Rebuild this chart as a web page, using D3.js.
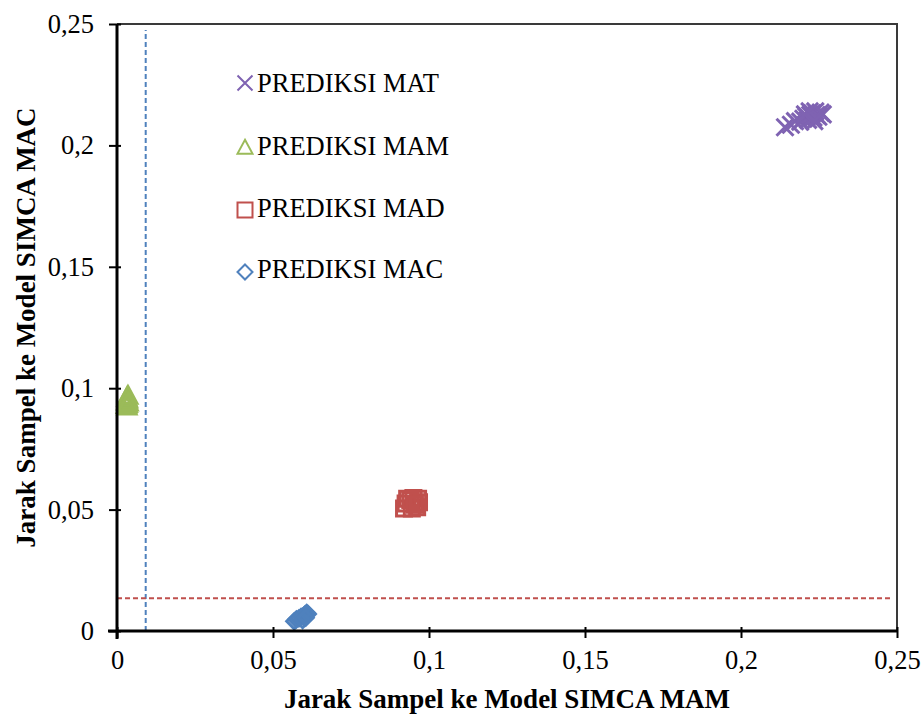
<!DOCTYPE html>
<html>
<head>
<meta charset="utf-8">
<script src="https://cdn.jsdelivr.net/npm/d3@7"></script>
<style>
  body { margin: 0; background: #fff; }
  svg { display: block; font-family: "Liberation Serif", "Times New Roman", serif; }
</style>
</head>
<body>
<svg id="chart" width="922" height="715"></svg>
<script>
// Distances of each predicted sample to the SIMCA class models [MAM distance, MAC distance]
const predMAT = [
  [0.2141, 0.2075], [0.2160, 0.2085], [0.2173, 0.2100], [0.2190, 0.2098],
  [0.2200, 0.2110], [0.2210, 0.2118], [0.2215, 0.2105], [0.2222, 0.2125],
  [0.2228, 0.2132], [0.2232, 0.2115], [0.2238, 0.2140], [0.2242, 0.2125],
  [0.2248, 0.2118], [0.2255, 0.2135], [0.2262, 0.2128], [0.2220, 0.2140],
  [0.2205, 0.2128], [0.2235, 0.2100]
];
const predMAM = [
  [0.0032, 0.0922], [0.0033, 0.0932], [0.0031, 0.0942], [0.0034, 0.0950],
  [0.0032, 0.0958], [0.0035, 0.0966], [0.0030, 0.0928], [0.0036, 0.0938]
];
const predMAD = [
  [0.0920, 0.0505], [0.0925, 0.0525], [0.0930, 0.0545], [0.0945, 0.0505],
  [0.0950, 0.0548], [0.0962, 0.0510], [0.0968, 0.0530], [0.0965, 0.0545],
  [0.0940, 0.0540], [0.0955, 0.0520]
];
const predMAC = [
  [0.0568, 0.0040], [0.0575, 0.0048], [0.0583, 0.0052], [0.0590, 0.0058],
  [0.0598, 0.0062], [0.0603, 0.0068], [0.0608, 0.0075], [0.0612, 0.0070],
  [0.0595, 0.0045], [0.0605, 0.0055]
];
// Critical distance limits of the two models
const limitMAM = 0.0092;
const limitMAC = 0.0135;

const xTicks = [0, 0.05, 0.1, 0.15, 0.2, 0.25];
const yTicks = [0, 0.05, 0.1, 0.15, 0.2, 0.25];
const minorTicks = d3.range(1, 25).map(i => i / 100);

const seriesNames = ["PREDIKSI MAT", "PREDIKSI MAM", "PREDIKSI MAD", "PREDIKSI MAC"];
const seriesData = [predMAT, predMAM, predMAD, predMAC];
const seriesColors = ["#7F63B2", "#9BBB59", "#C0504D", "#4F81BD"];
const seriesShapes = ["cross", "triangle", "square", "diamond"];

const svg = d3.select("#chart");
const m = { left: 117, right: 25, top: 24, bottom: 84 };
const W = 922, H = 715;
const x = d3.scaleLinear().domain([0, 0.25]).range([m.left, W - m.right]);
const y = d3.scaleLinear().domain([0, 0.25]).range([H - m.bottom, m.top]);

const fmt = d => d === 0 ? "0" : String(+d.toFixed(2)).replace(".", ",");
const fontSize = 26.5;
const titleSize = 27;

// plot frame (top and right edges)
svg.append("path")
  .attr("d", `M${x(0)},${y(0.25)}H${x(0.25)}V${y(0)}`)
  .attr("fill", "none").attr("stroke", "#3a3a3a").attr("stroke-width", 2);

// marker shape paths
function shapePath(shape, s) {
  if (shape === "cross") return `M${-s},${-s}L${s},${s}M${-s},${s}L${s},${-s}`;
  if (shape === "triangle") return `M0,${-s * 1.1}L${s},${s * 0.75}L${-s},${s * 0.75}Z`;
  if (shape === "square") return `M${-s},${-s}H${s}V${s}H${-s}Z`;
  return `M0,${-s}L${s},0L0,${s}L${-s},0Z`;
}

// reference limits
svg.append("line")
  .attr("x1", x(limitMAM)).attr("x2", x(limitMAM))
  .attr("y1", y(0)).attr("y2", y(0.2475))
  .attr("stroke", "#4F81BD").attr("stroke-width", 2).attr("stroke-dasharray", "5,3");
svg.append("line")
  .attr("x1", x(0)).attr("x2", x(0.248))
  .attr("y1", y(limitMAC)).attr("y2", y(limitMAC))
  .attr("stroke", "#C0504D").attr("stroke-width", 2).attr("stroke-dasharray", "5,3");

// data points
seriesData.forEach((data, i) => {
  const size = seriesShapes[i] === "cross" ? 8.5 : (seriesShapes[i] === "triangle" ? 9 : 7.5);
  svg.append("g").selectAll("path").data(data).join("path")
    .attr("transform", d => `translate(${x(d[0])},${y(d[1])})`)
    .attr("d", shapePath(seriesShapes[i], size))
    .attr("fill", "none")
    .attr("stroke", seriesColors[i])
    .attr("stroke-width", 3);
});

// axes with minor ticks inside
const xAxis = svg.append("g").attr("transform", `translate(0,${y(0)})`);
xAxis.call(d3.axisBottom(x).tickValues(minorTicks).tickSize(-5).tickFormat(""));
xAxis.call(d3.axisBottom(x).tickValues(xTicks).tickSize(7).tickFormat(fmt).tickPadding(12));
xAxis.selectAll(".domain").remove();
const yAxis = svg.append("g").attr("transform", `translate(${x(0)},0)`);
yAxis.call(d3.axisLeft(y).tickValues(minorTicks).tickSize(-5).tickFormat(""));
yAxis.call(d3.axisLeft(y).tickValues(yTicks).tickSize(8).tickFormat(fmt).tickPadding(15));
yAxis.selectAll(".domain").remove();

// major ticks cross the axis line
xAxis.selectAll(".tick line").filter(function () { return +d3.select(this).attr("y2") > 0; })
  .attr("y1", -4);
yAxis.selectAll(".tick line").filter(function () { return +d3.select(this).attr("x2") < 0; })
  .attr("x1", 4);

svg.selectAll(".tick line").attr("stroke", "#000").attr("stroke-width", 2);
svg.selectAll(".tick text").attr("font-size", fontSize).attr("font-family", "Liberation Serif").attr("fill", "#000");

svg.append("line").attr("x1", x(0) - 9).attr("x2", x(0.25)).attr("y1", y(0)).attr("y2", y(0))
  .attr("stroke", "#000").attr("stroke-width", 3);
svg.append("line").attr("x1", x(0)).attr("x2", x(0)).attr("y1", y(0.25)).attr("y2", y(0) + 8)
  .attr("stroke", "#000").attr("stroke-width", 3);

// axis titles
svg.append("text")
  .attr("x", 507).attr("y", 708)
  .attr("text-anchor", "middle").attr("font-weight", "bold").attr("font-size", titleSize)
  .text("Jarak Sampel ke Model SIMCA MAM");
svg.append("text")
  .attr("transform", `translate(35,${(y(0) + y(0.25)) / 2}) rotate(-90)`)
  .attr("text-anchor", "middle").attr("font-weight", "bold").attr("font-size", titleSize)
  .text("Jarak Sampel ke Model SIMCA MAC");

// legend
const legend = svg.append("g").attr("transform", "translate(245,0)");
const legendRows = [83, 148, 210, 272];
seriesNames.forEach((name, i) => {
  const g = legend.append("g").attr("transform", `translate(0,${legendRows[i]})`);
  g.append("path")
    .attr("d", shapePath(seriesShapes[i], 7.5))
    .attr("fill", "none").attr("stroke", seriesColors[i]).attr("stroke-width", 2);
  g.append("text").attr("x", 12).attr("y", [9, 7, 7, 6][i]).attr("font-size", fontSize).text(name);
});
</script>
</body>
</html>
